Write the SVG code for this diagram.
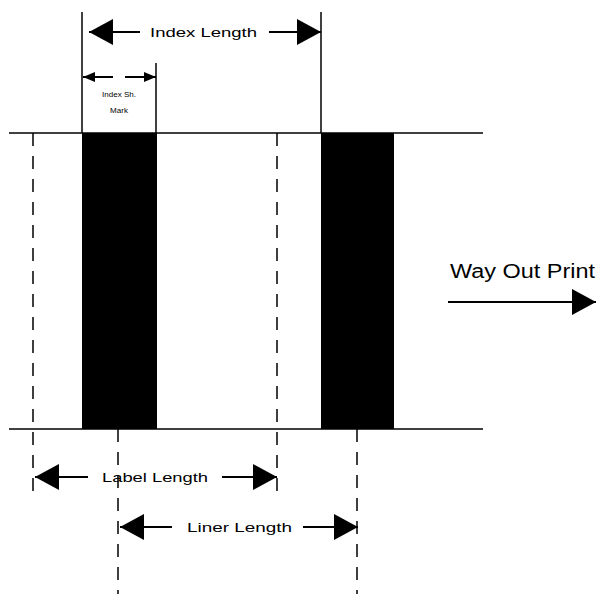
<svg xmlns="http://www.w3.org/2000/svg" width="598" height="594" viewBox="0 0 598 594">
<style>
.ln{stroke:#000;stroke-width:1.5;fill:none}
.dash{stroke:#000;stroke-width:1.5;fill:none;stroke-dasharray:13 10}
.ar{stroke:#000;stroke-width:2;fill:none}
.big{marker-start:url(#ab);marker-end:none}
.t{font-family:"Liberation Sans",Arial,sans-serif;fill:#000}
</style>
<defs>
<marker id="ab" viewBox="0 0 24 26" markerWidth="24" markerHeight="26" refX="24" refY="13" orient="auto-start-reverse" markerUnits="userSpaceOnUse"><path d="M0,0 L24,13 L0,26 z" fill="#000"/></marker>
<marker id="as" viewBox="0 0 12 10" markerWidth="12" markerHeight="10" refX="12" refY="5" orient="auto-start-reverse" markerUnits="userSpaceOnUse"><path d="M0,0 L12,5 L0,10 z" fill="#000"/></marker>
</defs>
<rect width="598" height="594" fill="#fff"/>
<g id="bar1"><rect x="82" y="133" width="75" height="296" fill="#000"/></g>
<g id="bar2"><rect x="321" y="133" width="73" height="296" fill="#000"/></g>
<g id="connectors">
<line class="ln" x1="9" y1="133" x2="483" y2="133"/>
<line class="ln" x1="9" y1="429" x2="483" y2="429"/>
<line class="ln" x1="82" y1="12" x2="82" y2="133"/>
<line class="ln" x1="321" y1="12" x2="321" y2="133"/>
<line class="ln" x1="156" y1="63" x2="156" y2="133"/>
<line class="dash" x1="33" y1="133" x2="33" y2="500"/>
<line class="dash" x1="277" y1="133" x2="277" y2="500"/>
<line class="dash" x1="118" y1="429" x2="118" y2="594"/>
<line class="dash" x1="357" y1="429" x2="357" y2="594"/>
<line class="ar" x1="89" y1="32" x2="140" y2="32" marker-start="url(#ab)"/>
<line class="ar" x1="269" y1="32" x2="321" y2="32" marker-end="url(#ab)"/>
<line class="ar" x1="83" y1="77" x2="113" y2="77" marker-start="url(#as)"/>
<line class="ar" x1="125" y1="77" x2="156" y2="77" marker-end="url(#as)"/>
<line class="ar" x1="35" y1="477" x2="88" y2="477" marker-start="url(#ab)"/>
<line class="ar" x1="222" y1="477" x2="277" y2="477" marker-end="url(#ab)"/>
<line class="ar" x1="120" y1="527" x2="172" y2="527" marker-start="url(#ab)"/>
<line class="ar" x1="303" y1="527" x2="358" y2="527" marker-end="url(#ab)"/>
<line class="ar" x1="448" y1="302" x2="596" y2="302" marker-end="url(#ab)"/>
</g>
<g id="labels">
<text class="t" x="150" y="37" font-size="13" textLength="107" lengthAdjust="spacingAndGlyphs">Index Length</text>
<text class="t" x="119" y="97" font-size="8" text-anchor="middle">Index Sh.</text>
<text class="t" x="119" y="113" font-size="8" text-anchor="middle">Mark</text>
<text class="t" x="102" y="482" font-size="13" textLength="106" lengthAdjust="spacingAndGlyphs">Label Length</text>
<text class="t" x="187" y="532" font-size="13" textLength="105" lengthAdjust="spacingAndGlyphs">Liner Length</text>
<text class="t" x="450" y="278" font-size="20" textLength="145" lengthAdjust="spacingAndGlyphs">Way Out Print</text>
</g>
</svg>
